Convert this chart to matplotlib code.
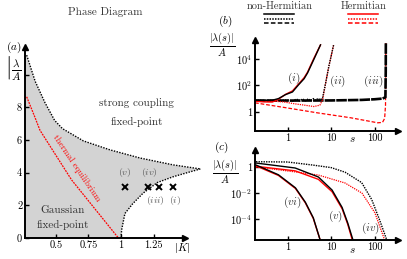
import numpy as np
import matplotlib
matplotlib.use('Agg')
import matplotlib.pyplot as plt
from matplotlib.lines import Line2D

plt.rcParams['font.family'] = 'serif'
plt.rcParams['font.serif'] = ['cmr10', 'DejaVu Serif']
plt.rcParams['mathtext.fontset'] = 'cm'
plt.rcParams['axes.formatter.use_mathtext'] = True

# ---- (a) phase diagram
upper_K = [0.275, 0.34, 0.415, 0.49, 0.55, 0.71, 0.915, 1.146, 1.40, 1.61]
upper_lam = [11.2, 9.6, 8.3, 7.2, 6.7, 5.95, 5.4, 4.9, 4.48, 4.23]
lower_K = [1.0, 1.005, 1.03, 1.09, 1.17, 1.28, 1.40, 1.53, 1.61]
lower_lam = [0.0, 0.5, 1.5, 2.1, 2.75, 3.4, 3.75, 4.05, 4.23]
thermal_K = [0.275, 0.34, 0.377, 0.5, 0.62, 0.8, 0.98]
thermal_lam = [8.65, 7.36, 6.6, 5.06, 3.56, 1.78, 0.0]
cross_K = [1.03, 1.21, 1.29, 1.40]
cross_lam = [3.15, 3.15, 3.15, 3.15]
cross_names = ['$(v)$', '$(iv)$', '$(iii)$', '$(i)$']
cross_label_K = [1.03, 1.215, 1.262, 1.418]
cross_above = [True, True, False, False]

# ---- (b) growth of |lambda(s)|/A, log10 values
b_i_s = [0.18, 0.3, 0.45, 0.62, 0.9, 1.3, 1.79, 2.4, 2.88, 3.96, 5.7]
b_i_nh = [0.88, 0.86, 0.88, 1.0, 1.3, 1.5, 2.04, 2.5, 2.94, 3.92, 5.06]
b_i_h = [0.8, 0.75, 0.74, 0.95, 1.32, 1.58, 2.1, 2.58, 3.0, 4.0, 5.06]
b_ii_s = [0.18, 0.5, 1.0, 1.3, 1.6, 1.9, 2.2, 2.6, 3.0, 3.4, 3.9, 4.4, 5.0,
          5.6, 6.36, 7.5, 8.8, 11.4]
b_ii_nh = [0.88, 0.86, 0.9, 0.8, 0.97, 0.82, 0.98, 0.83, 0.99, 0.84, 1.0,
           0.86, 1.02, 0.9, 1.06, 2.2, 3.4, 5.06]
b_ii_h_s = [0.18, 0.5, 0.8, 1.5, 2.5, 4.0, 5.5, 6.36, 7.5, 8.8, 11.4]
b_ii_h = [0.85, 0.8, 0.75, 0.6, 0.5, 0.4, 0.5, 0.9, 2.2, 3.4, 5.06]
b_iii_s = [0.18, 1.0, 10.0, 50.0, 100.0, 150.0, 175.0, 178.0, 179.0]
b_iii_nh = [0.85, 0.85, 0.86, 0.9, 0.95, 1.0, 1.1, 3.0, 5.2]
b_iii_h_s = [0.18, 1.0, 4.9, 28.0, 117.0, 150.0, 168.0, 176.0, 179.0]
b_iii_h = [0.68, 0.29, -0.08, -0.45, -0.83, -0.8, -0.5, 0.5, 5.2]

# ---- (c) decay of |lambda(s)|/A, log10 values
c_iv_s = [0.19, 1.0, 3.7, 10.0, 20.8, 50.0, 85.0, 130.0, 188.0]
c_iv_nh = [0.4, 0.38, 0.15, -0.05, -0.4, -1.2, -2.5, -4.1, -5.6]
c_iv_h_s = [0.19, 1.5, 5.1, 20.8, 50.6, 100.0, 168.0]
c_iv_h = [0.0, -0.38, -0.62, -1.23, -2.0, -3.5, -5.6]
c_v_s = [0.19, 1.5, 5.1, 10.5, 17.8, 24.0, 31.6]
c_v_nh = [0.3, -0.08, -0.77, -1.77, -3.1, -4.3, -5.6]
c_v_h_s = [0.19, 1.5, 5.1, 10.5, 17.8, 24.0, 30.5]
c_v_h = [0.05, -0.3, -0.95, -1.9, -3.2, -4.4, -5.6]
c_vi_s = [0.19, 0.62, 1.52, 2.56, 3.9, 5.6]
c_vi_nh = [0.15, -0.6, -1.6, -2.7, -3.9, -5.6]
c_vi_h = [0.08, -0.65, -1.65, -2.75, -3.95, -5.6]

W, H = 407, 259
fig = plt.figure(figsize=(W / 100, H / 100), dpi=100)


def px(x, y):
    return x / W, 1 - y / H


def style_axes(ax):
    for side in ['top', 'right']:
        ax.spines[side].set_visible(False)
    for side in ['left', 'bottom']:
        ax.spines[side].set_linewidth(1.4)
    ax.tick_params(direction='in', length=3, width=1, labelsize=7.5, pad=2)
    ax.tick_params(which='minor', length=0)
    ax.plot(0, 1, '^k', ms=4.5, transform=ax.transAxes, clip_on=False)
    ax.plot(1, 0, '>k', ms=4.5, transform=ax.transAxes, clip_on=False)
    ax.patch.set_alpha(0)


# ---------- panel (a)
ax = fig.add_axes([25 / W, 21 / H, 160 / W, 191 / H])
style_axes(ax)
poly_K = [0.262] + lower_K + upper_K[::-1] + [0.262]
poly_lam = [0.0] + lower_lam + upper_lam[::-1] + [upper_lam[0]]
ax.fill(poly_K, poly_lam, color='#d3d3d3', lw=0, clip_on=False, zorder=0)
ax.plot(upper_K, upper_lam, color='k', ls=(0, (1, 1)), lw=1, clip_on=False)
ax.plot(lower_K, lower_lam, color='k', ls=(0, (1, 1)), lw=1, clip_on=False)
ax.plot(thermal_K, thermal_lam, color='red', ls=(0, (1.5, 0.8)), lw=0.9)
ax.plot(cross_K, cross_lam, 'x', color='k', ms=5, mew=1.4)
for k, l, name, up in zip(cross_label_K, cross_lam, cross_names, cross_above):
    ax.text(k, l + (0.85 if up else -0.85), name, ha='center', va='center',
            fontsize=7, color='#555555')
ax.set_xlim(0.262, 1.492)
ax.set_ylim(0, 11.7)
ax.set_xticks([0.5, 0.75, 1, 1.25])
ax.set_xticklabels(['0.5', '0.75', '1', '1.25'])
ax.set_yticks([0, 2, 4, 6, 8, 10])
ax.set_yticklabels(['0', '2', '4', '6', '8', ''])
ax.text(1.12, 8.28, 'strong coupling', ha='center', va='center', fontsize=8, color='#333333')
ax.text(1.12, 7.1, 'fixed-point', ha='center', va='center', fontsize=8, color='#333333')
ax.text(0.55, 1.72, 'Gaussian', ha='center', va='center', fontsize=8, color='#333333')
ax.text(0.55, 0.8, 'fixed-point', ha='center', va='center', fontsize=8, color='#333333')
ax.text(0.66, 4.3, 'thermal equilibrium', ha='center', va='center', fontsize=6.5,
        color='red', rotation=-56)
fig.text(*px(16, 68), r'$\left|\dfrac{\lambda}{A}\right|$', ha='center', va='center', fontsize=8)
fig.text(*px(182, 248), r'$|K|$', ha='center', va='center', fontsize=8)
fig.text(*px(14, 47), r'$(a)$', ha='center', va='center', fontsize=8)
fig.text(*px(105, 12), 'Phase Diagram', ha='center', va='center', fontsize=8, color='#333333')

# ---------- panel (b)
dot = (0, (1, 0.8))
dash = (0, (3, 1.5))
bx = fig.add_axes([255 / W, 128 / H, 143 / W, 91 / H])
style_axes(bx)
bx.set_xscale('log')
bx.set_yscale('log')
bx.plot(b_iii_h_s, 10 ** np.array(b_iii_h), color='red', ls=dash, lw=0.9)
bx.plot(b_iii_s, 10 ** np.array(b_iii_nh), color='k', ls=(0, (4, 0.4)), lw=1.9)
bx.plot(b_ii_h_s, 10 ** np.array(b_ii_h), color='red', ls=dot, lw=0.9)
bx.plot(b_ii_s, 10 ** np.array(b_ii_nh), color='k', ls=dot, lw=1.0)
bx.plot(b_i_s, 10 ** np.array(b_i_h), color='red', lw=1.0)
bx.plot(b_i_s, 10 ** np.array(b_i_nh), color='k', lw=1.0)
bx.set_xlim(0.18, 340)
bx.set_ylim(10 ** -1.45, 10 ** 5.43)
bx.set_xticks([1, 10, 100])
bx.set_xticklabels(['1', '10', '100'])
bx.set_yticks([1, 1e2, 1e4])
bx.set_yticklabels(['1', r'$10^2$', r'$10^4$'])
bx.text(10 ** 0.15, 10 ** 2.55, '$(i)$', ha='center', va='center', fontsize=8, color='#333333')
bx.text(10 ** 1.15, 10 ** 2.3, '$(ii)$', ha='center', va='center', fontsize=8, color='#333333')
bx.text(10 ** 1.98, 10 ** 2.3, '$(iii)$', ha='center', va='center', fontsize=8, color='#333333')
fig.text(*px(352, 139), '$s$', ha='center', va='center', fontsize=8)
fig.text(*px(225, 21), '$(b)$', ha='center', va='center', fontsize=8)
fig.text(*px(222, 45), r'$\dfrac{|\lambda(s)|}{A}$', ha='center', va='center', fontsize=7.5)

# ---------- panel (c)
cx = fig.add_axes([255 / W, 19 / H, 143 / W, 90 / H])
style_axes(cx)
cx.set_xscale('log')
cx.set_yscale('log')
cx.plot(c_iv_h_s, 10 ** np.array(c_iv_h), color='red', ls=dot, lw=0.9)
cx.plot(c_iv_s, 10 ** np.array(c_iv_nh), color='k', ls=dot, lw=1.0)
cx.plot(c_v_h_s, 10 ** np.array(c_v_h), color='red', lw=1.0)
cx.plot(c_v_s, 10 ** np.array(c_v_nh), color='k', lw=1.0)
cx.plot(c_vi_s, 10 ** np.array(c_vi_h), color='red', lw=1.0)
cx.plot(c_vi_s, 10 ** np.array(c_vi_nh), color='k', lw=1.0)
cx.set_xlim(0.18, 340)
cx.set_ylim(10 ** -5.6, 10 ** 1.3)
cx.set_xticks([1, 10, 100])
cx.set_xticklabels(['1', '10', '100'])
cx.set_yticks([1, 1e-2, 1e-4])
cx.set_yticklabels(['1', r'$10^{-2}$', r'$10^{-4}$'])
cx.text(10 ** 0.12, 10 ** -2.7, '$(vi)$', ha='center', va='center', fontsize=8, color='#333333')
cx.text(10 ** 1.1, 10 ** -3.8, '$(v)$', ha='center', va='center', fontsize=8, color='#333333')
cx.text(10 ** 1.9, 10 ** -4.7, '$(iv)$', ha='center', va='center', fontsize=8, color='#333333')
fig.text(*px(352, 250), '$s$', ha='center', va='center', fontsize=8)
fig.text(*px(221, 147), '$(c)$', ha='center', va='center', fontsize=8)
fig.text(*px(225, 172), r'$\dfrac{|\lambda(s)|}{A}$', ha='center', va='center', fontsize=7.5)

# ---------- legend at the top
fig.text(*px(280, 6), 'non-Hermitian', ha='center', va='center', fontsize=7.5, color='#333333')
fig.text(*px(364, 6), 'Hermitian', ha='center', va='center', fontsize=7.5, color='#333333')
for color, x0, x1 in [('k', 264, 294), ('red', 348, 378)]:
    for ls, yy in [('-', 14), (dot, 18.5), (dash, 23)]:
        (a0, b0), (a1, b1) = px(x0, yy), px(x1, yy)
        fig.add_artist(Line2D([a0, a1], [b0, b1], color=color, ls=ls, lw=1.1))

fig.savefig('out.png', dpi=100)
